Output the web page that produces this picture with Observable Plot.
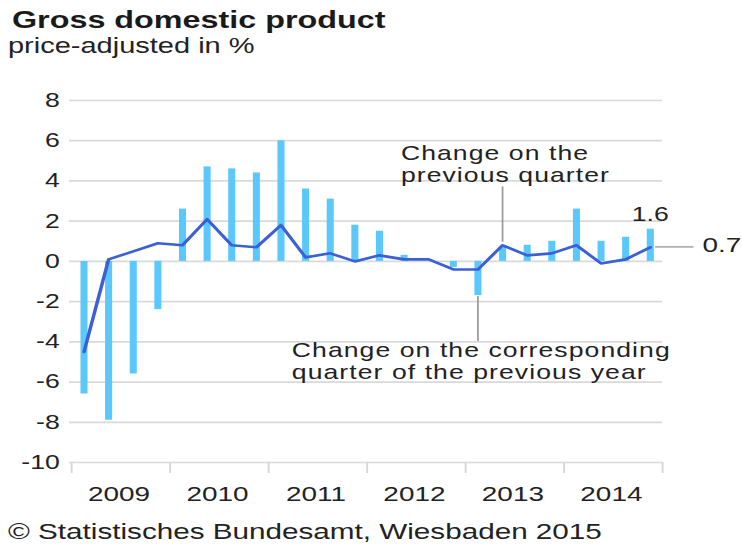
<!DOCTYPE html>
<html>
<head>
<meta charset="utf-8">
<script src="https://cdn.jsdelivr.net/npm/d3@7"></script>
<script src="https://cdn.jsdelivr.net/npm/@observablehq/plot@0.6"></script>
<style>
  html, body { margin: 0; padding: 0; background: #fff; overflow: hidden; }
  #wrap { position: relative; width: 558px; height: 548px; transform: scaleX(1.33); transform-origin: 0 0;
          font-family: "Liberation Sans", Arial, sans-serif; color: #222; }
  #title { position: absolute; left: 9px; top: 8px; font-size: 24.3px; line-height: 24px; font-weight: bold; color: #1a1a1a; white-space: nowrap; }
  #subtitle { position: absolute; left: 6px; top: 35px; font-size: 21.8px; line-height: 22px; color: #222; white-space: nowrap; }
  #chart { position: absolute; left: 0; top: 70px; }
  #caption { position: absolute; left: 6px; top: 521px; font-size: 22.3px; line-height: 22px; color: #222; white-space: nowrap; }
</style>
</head>
<body>
<div id="wrap">
  <div id="title">Gross domestic product</div>
  <div id="subtitle">price-adjusted in %</div>
  <div id="chart"></div>
  <div id="caption">© Statistisches Bundesamt, Wiesbaden 2015</div>
</div>
<script>
// Quarters 2009 Q1 – 2014 Q4
const quarters = [
  "2009 Q1","2009 Q2","2009 Q3","2009 Q4",
  "2010 Q1","2010 Q2","2010 Q3","2010 Q4",
  "2011 Q1","2011 Q2","2011 Q3","2011 Q4",
  "2012 Q1","2012 Q2","2012 Q3","2012 Q4",
  "2013 Q1","2013 Q2","2013 Q3","2013 Q4",
  "2014 Q1","2014 Q2","2014 Q3","2014 Q4"
];
// Change on the corresponding quarter of the previous year (bars)
const prevYearChange = [
  -6.6, -7.9, -5.6, -2.4,
   2.6,  4.7,  4.6,  4.4,
   6.0,  3.6,  3.1,  1.8,
   1.5,  0.3,  0.0, -0.3,
  -1.7,  0.7,  0.8,  1.0,
   2.6,  1.0,  1.2,  1.6
];
// Change on the previous quarter (line)
const prevQuarterChange = [
  -4.5,  0.1,  0.5,  0.9,
   0.8,  2.1,  0.8,  0.7,
   1.8,  0.2,  0.4,  0.0,
   0.3,  0.1,  0.1, -0.4,
  -0.4,  0.8,  0.3,  0.4,
   0.8, -0.1,  0.1,  0.7
];
const years = ["2009","2010","2011","2012","2013","2014"];
const yTicks = [8, 6, 4, 2, 0, -2, -4, -6, -8, -10];

// annotations (data space: x = quarter index, y = percent)
const noteTexts = ["Change on the\nprevious quarter", "Change on the corresponding\nquarter of the previous year"];
const noteX = [12.87, 8.44];
const noteY = [5.78, -4.0];
const leaderX = [17, 16];
const leaderFrom = [0.95, -1.75];
const leaderTo = [3.7, -3.98];
const endValueTexts = ["1.6", "0.7"];
const endValueX = [23, 25.12];
const endValueY = [2.35, 0.79];
const endLeaderX = [23.22, 24.78];
const endLeaderY = 0.72;

const data = quarters.map((q, i) => ({q, i, yoy: prevYearChange[i], qoq: prevQuarterChange[i]}));
const yearCenters = years.map((y, k) => k * 4 + 1.5);
const yearBounds = d3.range(0, years.length + 1).map(k => k * 4 - 0.5);
const notes = noteTexts.map((t, k) => ({text: t, x: noteX[k], y: noteY[k]}));
const leaders = leaderX.map((x, k) => ({x, y1: leaderFrom[k], y2: leaderTo[k]}));
const endLabels = endValueTexts.map((t, k) => ({text: t, x: endValueX[k], y: endValueY[k]}));
const endLeader = [{x1: endLeaderX[0], x2: endLeaderX[1], y: endLeaderY}];

const chart = Plot.plot({
  width: 558,
  height: 440,
  marginLeft: 53.4,
  marginRight: 60.3,
  marginTop: 30,
  marginBottom: 48,
  style: {fontFamily: "'Liberation Sans', Arial, sans-serif", fontSize: "20px", background: "#fff", color: "#222", overflow: "visible"},
  x: {type: "linear", domain: [-0.5, 23.5]},
  y: {type: "linear", domain: [-10, 8]},
  marks: [
    Plot.ruleY(yTicks, {stroke: "#d9d9d9", strokeWidth: 1.7, insetLeft: -1.5}),
    Plot.axisX(yearBounds, {tickSize: 11, tickFormat: () => "", stroke: "#d6d6d6", strokeWidth: 1.4, label: null}),
    Plot.axisX(yearCenters, {tickSize: 0, tickPadding: 23.5, dx: -1.5, tickFormat: d => years[Math.round((d - 1.5) / 4)], fontSize: 21, fill: "#222", label: null}),
    Plot.axisY(yTicks, {tickSize: 0, tickPadding: 9, tickFormat: d => String(d), fontSize: 20, fill: "#222", label: null}),
    Plot.ruleX(data, {x: "i", y1: 0, y2: "yoy", stroke: "#5ac8fa", strokeWidth: 5.3}),
    Plot.ruleX(leaders, {x: "x", y1: "y1", y2: "y2", stroke: "#9a9a9a", strokeWidth: 1.3}),
    Plot.ruleY(endLeader, {y: "y", x1: "x1", x2: "x2", stroke: "#b0b0b0", strokeWidth: 1.8}),
    Plot.line(data, {x: "i", y: "qoq", stroke: "#3a5fd6", strokeWidth: 2.6, strokeLinejoin: "round"}),
    Plot.text(notes, {x: "x", y: "y", text: "text", textAnchor: "start", lineAnchor: "top", lineHeight: 1.08, fontSize: 20, fill: "#222"}),
    Plot.text(endLabels.slice(0, 1), {x: "x", y: "y", text: "text", textAnchor: "middle", fontSize: 20, fill: "#222"}),
    Plot.text(endLabels.slice(1), {x: "x", y: "y", text: "text", textAnchor: "start", fontSize: 21, fill: "#222"})
  ]
});
chart.querySelectorAll("text").forEach(t => {
  if (t.textContent.startsWith("Change")) t.style.letterSpacing = "0.8px";
});
document.getElementById("chart").append(chart);
</script>
</body>
</html>
